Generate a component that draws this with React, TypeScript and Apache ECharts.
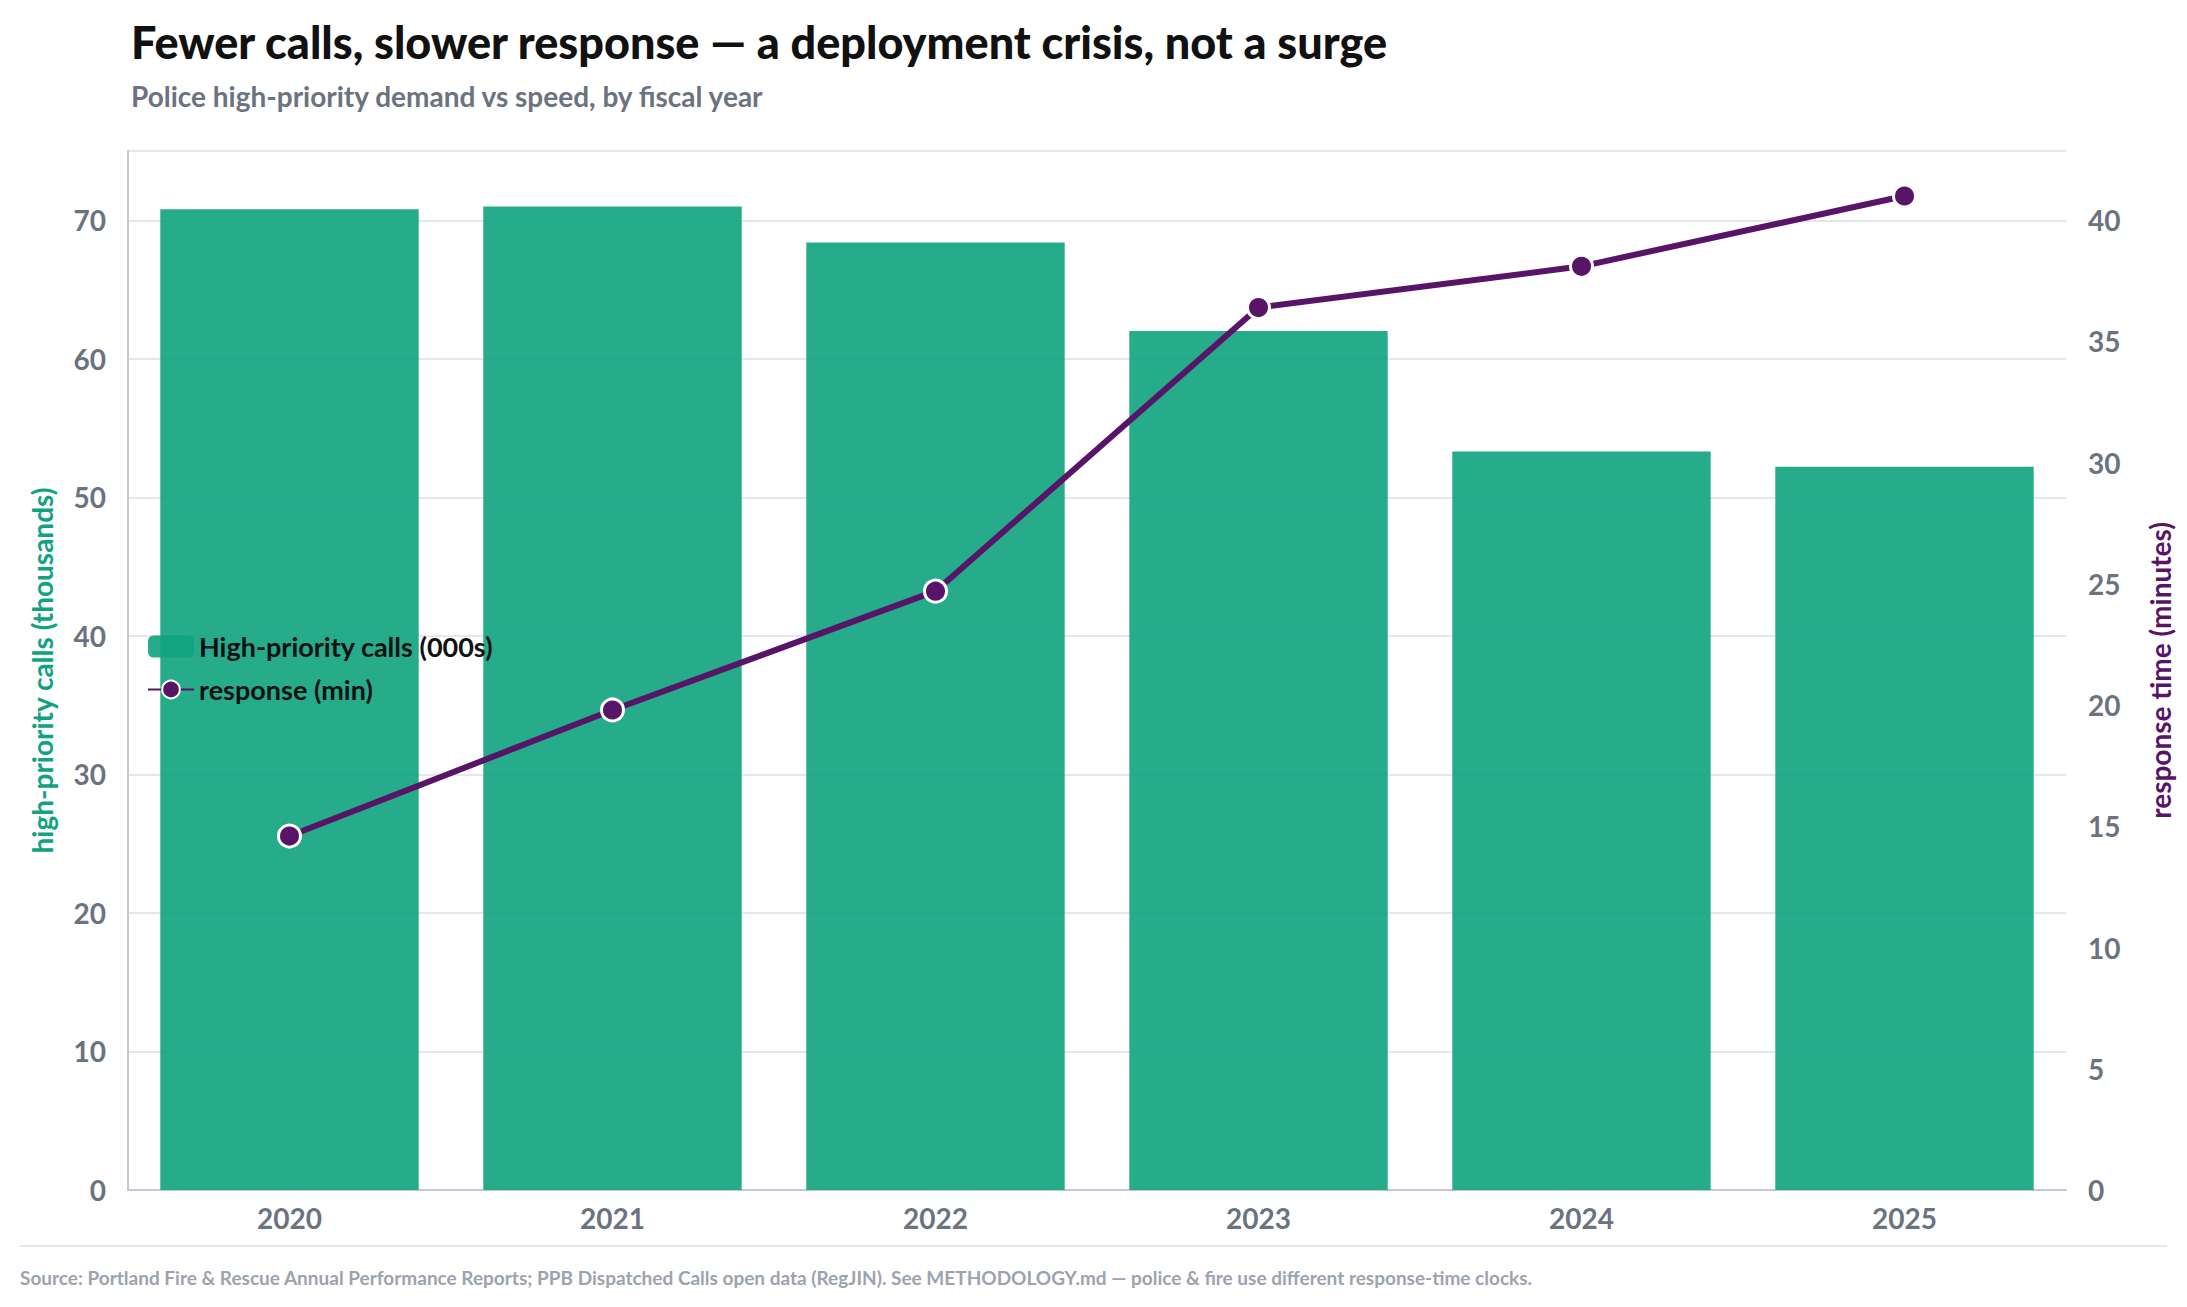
import { useEffect, useRef } from "react";
import * as echarts from "echarts";

const years = ["2020", "2021", "2022", "2023", "2024", "2025"];
const calls = [70.8, 71.0, 68.4, 62.0, 53.3, 52.2];
const response = [14.6, 19.8, 24.7, 36.4, 38.1, 41.0];

const FONT = "Lato, 'Open Sans', sans-serif";
const GREEN = "#10a37f";
const PURPLE = "#581467";
const GREY = "#6b7280";

export default function App() {
  const ref = useRef<HTMLDivElement>(null);

  useEffect(() => {
    document.body.style.margin = "0";
    if (!ref.current) return;
    const chart = echarts.init(ref.current, null, { renderer: "svg" });
    chart.setOption({
      animation: false,
      backgroundColor: "#fff",
      textStyle: { fontFamily: FONT },
      title: {
        text: "Fewer calls, slower response — a deployment crisis, not a surge",
        subtext: "Police high-priority demand vs speed, by fiscal year",
        left: 126,
        top: 14,
        itemGap: 18,
        textStyle: { fontFamily: FONT, fontSize: 45, fontWeight: 900, color: "#111" },
        subtextStyle: { fontFamily: FONT, fontSize: 28, fontWeight: "bold", color: GREY },
      },
      legend: {
        orient: "vertical",
        left: 142,
        top: 628,
        itemWidth: 46,
        itemHeight: 22,
        itemGap: 16,
        textStyle: { fontFamily: FONT, fontSize: 27, fontWeight: "bold", color: "#111" },
        data: ["High-priority calls (000s)", "response (min)"],
      },
      grid: { left: 128, right: 121, top: 151, bottom: 117 },
      xAxis: {
        type: "category",
        data: years,
        axisTick: { show: false },
        axisLine: { lineStyle: { color: "#c4c8d4", width: 2 } },
        axisLabel: { fontSize: 28, fontWeight: "bold", color: GREY, margin: 14 },
      },
      yAxis: [
        {
          type: "value",
          min: 0,
          max: 75,
          interval: 10,
          name: "high-priority calls (thousands)",
          nameLocation: "middle",
          nameGap: 72,
          nameTextStyle: { fontSize: 28, fontWeight: "bold", color: GREEN },
          axisLine: { show: true, lineStyle: { color: "#c4c8d4", width: 2 } },
          axisLabel: { fontSize: 28, fontWeight: "bold", color: GREY, margin: 22, showMaxLabel: false },
          splitLine: { lineStyle: { color: "#e5e7eb", width: 2 } },
        },
        {
          type: "value",
          min: 0,
          max: 75 * 40 / 70,
          interval: 5,
          name: "response time (minutes)",
          nameLocation: "middle",
          nameGap: 80,
          nameTextStyle: { fontSize: 28, fontWeight: "bold", color: PURPLE },
          axisLine: { show: false },
          axisLabel: { fontSize: 28, fontWeight: "bold", color: GREY, margin: 22, showMaxLabel: false },
          splitLine: { show: false },
        },
      ],
      series: [
        {
          name: "High-priority calls (000s)",
          type: "bar",
          data: calls,
          barWidth: "80%",
          itemStyle: { color: GREEN, opacity: 0.91 },
        },
        {
          name: "response (min)",
          type: "line",
          yAxisIndex: 1,
          data: response,
          symbol: "circle",
          symbolSize: 22,
          lineStyle: { color: PURPLE, width: 6 },
          itemStyle: { color: PURPLE, borderColor: "#fff", borderWidth: 3 },
        },
      ],
      graphic: [
        {
          type: "line",
          shape: { x1: 20, y1: 1246, x2: 2167, y2: 1246 },
          style: { stroke: "#e5e7eb", lineWidth: 2 },
        },
        {
          type: "text",
          left: 20,
          top: 1268,
          style: {
            text: "Source: Portland Fire & Rescue Annual Performance Reports; PPB Dispatched Calls open data (RegJIN). See METHODOLOGY.md — police & fire use different response-time clocks.",
            font: `bold 19px ${FONT}`,
            fill: "#9ca3af",
          },
        },
      ],
    });
    return () => chart.dispose();
  }, []);

  return <div ref={ref} style={{ width: 2187, height: 1307 }} />;
}
